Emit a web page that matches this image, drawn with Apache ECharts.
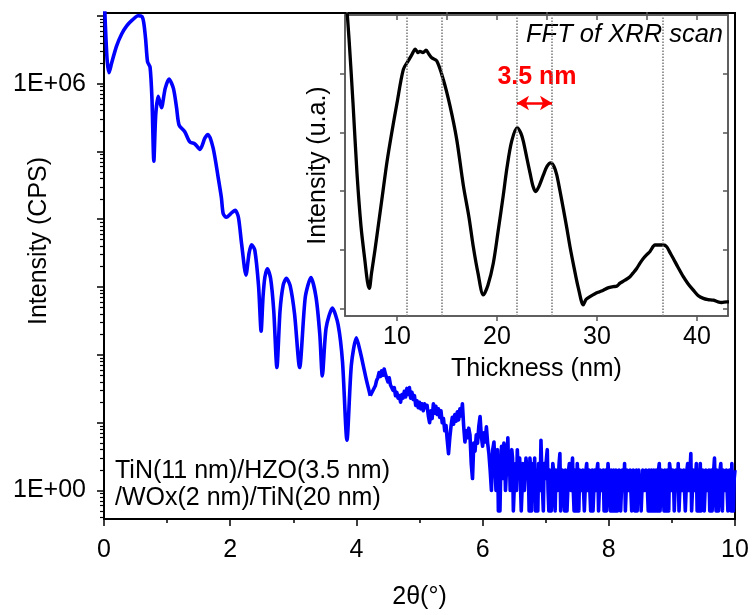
<!DOCTYPE html>
<html><head><meta charset="utf-8">
<script src="https://cdn.jsdelivr.net/npm/echarts@6/dist/echarts.min.js"></script>
<style>html,body{margin:0;padding:0;background:#fff}#c{width:753px;height:615px}</style>
</head><body><div id="c"></div>
<script>
// ---- XRR scan (main panel): 2theta (deg) vs intensity (CPS) ----
const mainTheta = [0.00,0.02,0.05,0.08,0.12,0.20,0.28,0.36,0.45,0.54,0.60,0.63,0.66,0.69,0.73,0.76,0.79,0.82,0.86,0.91,0.97,1.03,1.10,1.15,1.19,1.28,1.36,1.44,1.52,1.60,1.65,1.73,1.81,1.86,1.89,1.94,2.03,2.08,2.13,2.18,2.25,2.30,2.34,2.39,2.45,2.49,2.52,2.55,2.59,2.64,2.69,2.74,2.79,2.84,2.89,2.95,3.02,3.10,3.19,3.28,3.36,3.42,3.46,3.52,3.62,3.71,3.78,3.85,3.92,4.00,4.06,4.11,4.16,4.22];
const mainCps = [2.5e7,7.9e6,2.2e6,1.45e6,2.0e6,3.6e6,5.4e6,7.1e6,8.7e6,1.0e7,9.8e6,7.9e6,4.5e6,2.1e6,1.74e6,6.0e5,7.2e4,3.5e5,6.5e5,4.4e5,8.5e5,1.17e6,8.5e5,4.4e5,2.45e5,1.95e5,1.38e5,1.29e5,1.07e5,1.58e5,1.78e5,1.12e5,4.1e4,2.1e4,1.2e4,1.07e4,1.26e4,1.35e4,1.07e4,4400,1500,3200,4200,3500,1020,224,710,1410,1860,1350,450,65,450,1070,1350,1050,400,65,710,1380,710,200,49,250,490,280,79,5.5,71,178,112,69,42,25];
// noisy decay, sampled every 0.02 deg from 4.30 deg
const bandStart = 4.30, bandStep = 0.02;
const bandCps = [
 35,42,46,55,48,58,50,62,52,50,
 40,46,36,38,30,33,25,28,23,25,
 20,26,23,29,24,32,26,33,23,28,
 22,25,18,21,16.6,20,16,19,15,19,
 16.6,18,12.6,10,15,11.5,19,13.8,17.4,13.2,
 16,12,15,10,11.5,7.6,9.1,5.5,3.5,6,
 8.9,12,9.5,13.2,10.5,14.5,11,16,12.6,19,
 8.9,5.2,7.6,6,8.3,6.6,2.5,1.5,5,3.8,
 6.6,5,8.9,12.3,6.3,4.5,7.1,5.2,8.7,5,
 3.5,2,1,4,5.2];
// noise floor, sampled every 0.0125 deg from 6.2 deg
const noiseStart = 6.2, noiseStep = 0.0125;
const noiseCps = [
 5,1,2,4,0.5,3,0.5,2,4.5,1.5,2,5,3.5,1,1,3,
 6,2,3,1,1.5,4,3,0.5,1,2,2.5,1,4,2,1.5,3,
 3,0.5,1,2.5,2,1,1,3,3,1.5,2,0.5,3,2,0.5,2,
 2.5,1,3,0.5,1,2,0.5,2.5,2,1,5.5,2,1,0.5,2.5,1.5,
 1.5,3,4,1,0.5,2,2,0.5,1,2.5,2,1,0.5,2,2,1,
 1.5,2.5,3.5,0.5,0.5,2,2,1,0.5,2,1.5,0.5,1,2,2.5,1.5,
 1,2,3,1,0.5,2,2,0.5,2.5,1.5,0.5,2,2,1,1,2,
 2,0.5,0.5,2,2.5,1,1,2,2,0.5,1.5,2,0.5,1,2,1.5,
 1,2,2.5,0.5,0.5,2,2,1,1.5,2,0.5,1,2,0.5,1,2.5,
 2.5,1,0.5,2,1.5,0.5,2,1,0.5,2,2,0.5,1,2,2,0.5,
 0.5,2,1.5,1,2.5,0.5,0.5,2,2,1,1,2,2,0.5,0.5,2,
 2,0.5,1,2,0.5,1.5,2,1,1.5,0.5,0.5,2,2,1,1,2,
 2,1,0.5,2,1.5,0.5,2,1,0.5,2,1,0.5,2,1.5,0.5,2,
 2.5,0.5,1,2,2,1,0.5,2,1.5,0.5,2,1,0.5,2.5,2,1,
 1,2,1.5,0.5,0.5,2,2,1,2.5,0.5,0.5,2,2,1,1,2,
 2,0.5,0.5,2,2.5,1,1,2,3.5,0.5,0.5,2,2,1,1,2.5,
 0.5,2,0.5,1,2.5,0.5,1,2,2,0.5,0.5,2,2,1,1.5,2,
 0.5,1,2,0.5,1,2,3,1,0.5,2,2,0.5,1,2,2.5,1,
 0.5,2,2,1,1,2,2,0.5,0.5,2,1.5,0.5,2.5,1,0.5,1.5,
 2];
// ---- inset: FFT of XRR scan ----
const fftThickness = [4.9,5.2,5.6,6.0,6.4,6.8,7.05,7.23,7.45,7.8,8.2,8.6,9.0,9.47,10.0,10.63,11.13,11.5,11.83,12.1,12.3,12.6,12.9,13.2,13.47,13.97,14.63,15.3,15.97,16.63,17.2,17.63,18.1,18.63,19.1,19.63,20.1,20.63,21.0,21.47,22.03,22.4,22.63,23.0,23.3,23.6,23.87,24.2,24.63,25.0,25.37,25.7,25.97,26.3,26.63,27.0,27.3,27.7,28.13,28.63,28.9,29.3,29.8,30.2,30.63,31.1,31.63,32.0,32.3,32.8,33.3,33.6,33.97,34.3,34.63,35.0,35.3,35.8,36.2,36.63,36.97,37.3,37.63,38.1,38.63,39.1,39.63,40.1,40.63,41.1,41.63,42.1,42.47,42.97,43.2];
const fftAmp = [5.3,4.6,3.5,2.3,1.4,0.8,0.45,0.34,0.6,1.0,1.5,2.0,2.5,2.99,3.5,4.07,4.22,4.33,4.42,4.36,4.38,4.36,4.40,4.33,4.27,4.22,3.90,3.45,2.88,2.10,1.55,1.05,0.6,0.23,0.4,0.77,1.3,1.93,2.4,2.85,3.08,2.98,2.85,2.55,2.31,2.08,1.99,2.08,2.27,2.42,2.48,2.42,2.28,2.0,1.7,1.35,1.05,0.7,0.35,0.06,0.15,0.20,0.25,0.28,0.31,0.35,0.37,0.38,0.43,0.48,0.54,0.6,0.68,0.77,0.85,0.92,0.97,1.08,1.08,1.08,1.05,0.95,0.85,0.7,0.54,0.42,0.31,0.22,0.17,0.15,0.14,0.11,0.10,0.11,0.11];
const periodMarkers = [11.0, 14.5, 22.0, 25.5, 36.6];
const arrowSpan = [22.0, 25.5];
// ---- tick / label values ----
const mainXLabels = [0, 2, 4, 6, 8, 10];
const mainYLabelValues = [1, 1e6];
const mainYTickValues = [1, 10, 100, 1e3, 1e4, 1e5, 1e6, 1e7];
const insetXLabels = [10, 20, 30, 40];
const insetXMinor = [5, 15, 25, 35];
const insetXTop = [10, 15, 20, 25, 30, 35, 40];
const insetYTicks = [0, 1, 2, 3, 4];

const FONT = "'Liberation Sans', Arial, sans-serif";
const BLACK = '#000';
const INSET = '#555';

const mainData = mainTheta.map((t, i) => [t, mainCps[i]]);
const tailData = [[mainTheta[mainTheta.length - 1], mainCps[mainCps.length - 1]]]
  .concat(bandCps.map((v, i) => [+(bandStart + i * bandStep).toFixed(4), v]))
  .concat(noiseCps.map((v, i) => [+(noiseStart + i * noiseStep).toFixed(4), v]));
const fftData = fftThickness.map((t, i) => [t, fftAmp[i]]);

const X_MIN_IN = 4.8, X_MAX_IN = 43.1, Y_MIN_IN = -0.13, Y_MAX_IN = 5.0;

const chart = echarts.init(document.getElementById('c'), null, { renderer: 'canvas' });
chart.setOption({
  animation: false,
  backgroundColor: '#fff',
  textStyle: { fontFamily: FONT },
  grid: [
    { left: 104, top: 13, width: 631, height: 512, show: true, borderColor: BLACK, borderWidth: 2, backgroundColor: 'transparent' },
    { left: 345, top: 15, width: 383, height: 301, show: true, borderColor: INSET, borderWidth: 1.5, backgroundColor: '#fff' }
  ],
  xAxis: [
    { gridIndex: 0, type: 'value', min: 0, max: 10, interval: 2,
      name: '2θ(°)', nameLocation: 'middle', nameGap: 66,
      nameTextStyle: { fontSize: 25, color: BLACK, fontFamily: FONT },
      axisLine: { show: true, onZero: false, lineStyle: { color: BLACK, width: 2 } },
      axisTick: { show: true, length: 7, lineStyle: { color: BLACK, width: 1.5 } },
      minorTick: { show: true, splitNumber: 2, length: 4, lineStyle: { color: BLACK, width: 1.5 } },
      axisLabel: { fontSize: 25, color: BLACK, margin: 19, fontFamily: FONT, customValues: mainXLabels },
      splitLine: { show: false }, minorSplitLine: { show: false } },
    { gridIndex: 1, type: 'value', min: X_MIN_IN, max: X_MAX_IN,
      name: 'Thickness (nm)', nameLocation: 'middle', nameGap: 41,
      nameTextStyle: { fontSize: 25, color: BLACK, fontFamily: FONT },
      axisLine: { show: true, onZero: false, lineStyle: { color: INSET, width: 1.5 } },
      axisTick: { show: true, length: 5, customValues: insetXLabels, lineStyle: { color: INSET, width: 1.5 } },
      axisLabel: { fontSize: 25, color: BLACK, margin: 9, fontFamily: FONT, customValues: insetXLabels },
      splitLine: { show: false } },
    { gridIndex: 1, type: 'value', min: X_MIN_IN, max: X_MAX_IN,
      axisLine: { show: false, onZero: false },
      axisTick: { show: true, length: 3, customValues: insetXMinor, lineStyle: { color: INSET, width: 1.5 } },
      axisLabel: { show: false }, splitLine: { show: false } },
    { gridIndex: 1, type: 'value', position: 'top', min: X_MIN_IN, max: X_MAX_IN,
      axisLine: { show: true, onZero: false, lineStyle: { color: INSET, width: 1.5 } },
      axisTick: { show: true, inside: true, length: 5, customValues: insetXTop, lineStyle: { color: INSET, width: 1.5 } },
      axisLabel: { show: false }, splitLine: { show: false } }
  ],
  yAxis: [
    { gridIndex: 0, type: 'log', logBase: 10, min: 0.38, max: 1.1e7,
      axisLine: { show: true, onZero: false, lineStyle: { color: BLACK, width: 2 } },
      axisTick: { show: true, length: 7, customValues: mainYTickValues, lineStyle: { color: BLACK, width: 1.5 } },
      minorTick: { show: true, splitNumber: 9, length: 4, lineStyle: { color: BLACK, width: 1.2 } },
      axisLabel: { fontSize: 25, color: BLACK, margin: 18, fontFamily: FONT, customValues: mainYLabelValues,
        formatter: v => '1E+' + String(Math.round(Math.log10(v))).padStart(2, '0') },
      splitLine: { show: false }, minorSplitLine: { show: false } },
    { gridIndex: 1, type: 'value', min: Y_MIN_IN, max: Y_MAX_IN,
      name: 'Intensity (u.a.)', nameLocation: 'middle', nameGap: 14,
      nameTextStyle: { fontSize: 25, color: BLACK, fontFamily: FONT },
      axisLine: { show: true, onZero: false, lineStyle: { color: INSET, width: 1.5 } },
      axisTick: { show: true, length: 5, customValues: insetYTicks, lineStyle: { color: INSET, width: 1.5 } },
      axisLabel: { show: false }, splitLine: { show: false } },
    { gridIndex: 1, type: 'value', position: 'right', min: Y_MIN_IN, max: Y_MAX_IN,
      axisLine: { show: true, onZero: false, lineStyle: { color: INSET, width: 1.5 } },
      axisTick: { show: true, inside: true, length: 5, customValues: insetYTicks, lineStyle: { color: INSET, width: 1.5 } },
      axisLabel: { show: false }, splitLine: { show: false } }
  ],
  series: [
    { name: 'XRR', type: 'line', xAxisIndex: 0, yAxisIndex: 0, data: mainData, showSymbol: false, symbol: 'none',
      smooth: 0.25, clip: true, lineStyle: { color: '#0000ff', width: 3.6, join: 'round' } },
    { name: 'XRR tail', type: 'line', xAxisIndex: 0, yAxisIndex: 0, data: tailData, showSymbol: false, symbol: 'none',
      clip: true, lineStyle: { color: '#0000ff', width: 3.6, join: 'round' } },
    { name: 'FFT', type: 'line', xAxisIndex: 1, yAxisIndex: 1, data: fftData, showSymbol: false, symbol: 'none',
      smooth: 0.3, clip: true, lineStyle: { color: BLACK, width: 3.3, join: 'round' },
      markLine: { silent: true, symbol: 'none', animation: false, label: { show: false },
        lineStyle: { color: '#777', type: 'dotted', width: 1.5 },
        data: periodMarkers.map(v => ({ xAxis: v })) } },
    { name: 'period', type: 'line', xAxisIndex: 1, yAxisIndex: 1, data: [], showSymbol: false,
      markLine: { silent: true, symbol: ['arrow', 'arrow'], symbolSize: [11, 12], animation: false, label: { show: false },
        lineStyle: { color: '#ff0000', type: 'solid', width: 2.5 },
        data: [[{ coord: [arrowSpan[0], 3.5] }, { coord: [arrowSpan[1], 3.5] }]] } }
  ],
  graphic: [
    { type: 'text', x: 39, y: 241, rotation: Math.PI / 2,
      style: { text: 'Intensity (CPS)', font: '25px ' + FONT, fill: BLACK, align: 'center', verticalAlign: 'middle' } },
    { type: 'text', x: 115, y: 471,
      style: { text: 'TiN(11 nm)/HZO(3.5 nm)', font: '25px ' + FONT, fill: BLACK, align: 'left', verticalAlign: 'middle' } },
    { type: 'text', x: 115, y: 498,
      style: { text: '/WOx(2 nm)/TiN(20 nm)', font: '25px ' + FONT, fill: BLACK, align: 'left', verticalAlign: 'middle' } },
    { type: 'text', x: 723, y: 35,
      style: { text: 'FFT of XRR scan', font: 'italic 25.5px ' + FONT, fill: BLACK, align: 'right', verticalAlign: 'middle' } },
    { type: 'text', x: 537, y: 77,
      style: { text: '3.5 nm', font: 'bold 25px ' + FONT, fill: '#ff0000', align: 'center', verticalAlign: 'middle' } }
  ]
});
</script></body></html>
